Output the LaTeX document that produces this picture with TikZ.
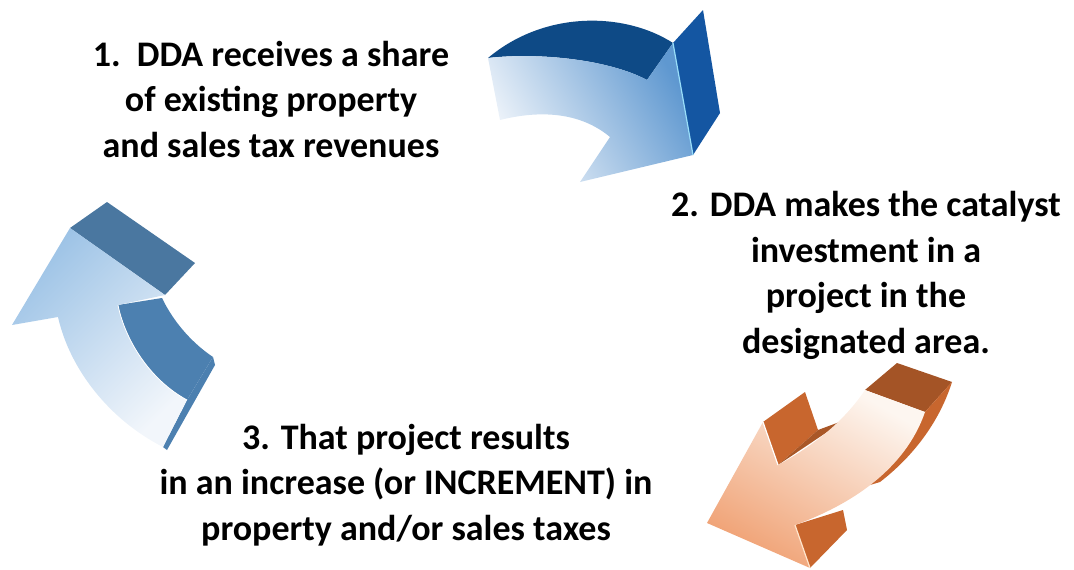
\documentclass[tikz,border=0pt]{standalone}
\usepackage{fontspec}
\setmainfont{Carlito}
\definecolor{navytop}{HTML}{0E4A86}
\definecolor{navyside}{HTML}{1456A2}
\definecolor{navydeep}{HTML}{5F98D0}
\definecolor{steeltop}{HTML}{4A77A0}
\definecolor{steelin}{HTML}{4C80B0}
\definecolor{steeldeep}{HTML}{9DC3E6}
\definecolor{rusttop}{HTML}{A45426}
\definecolor{rustside}{HTML}{C8662E}
\definecolor{rustdeep}{HTML}{F0A275}
\definecolor{paleblue}{HTML}{F2F6FB}
\definecolor{paleorange}{HTML}{FDF6F0}
\tikzset{
    stage/.style ={
        align=center,
        inner sep=0pt,
        anchor=base,
        font=\fontsize{36}{45.5}\selectfont\bfseries
    },
    face/.style ={
        fill=#1,
        draw=none
    },
    glint/.style ={
        draw=#1,
        line width=1.2pt
    }
}

\begin{document}
\begin{tikzpicture}[x=1pt,y=-1pt]
    \useasboundingbox (0,0) rectangle (1074,570);
    % arrow from 1 to 2
    \fill[face=navytop] (488,58) .. controls (545,10) and (625,12) .. (673,43)
        -- (647,80) .. controls (610,60) and (540,52) .. (488,58) -- cycle;
    \fill[face=navyside] (673,43) -- (703,10) -- (720,113) -- (693,155) -- cycle;
    \shade[top color=navydeep,bottom color=paleblue,shading angle=-60]
        (488,58) .. controls (540,52) and (610,60) .. (647,80) -- (673,43)
        -- (693,155) -- (580,182) -- (610,137)
        .. controls (580,112) and (540,110) .. (500,120) -- cycle;
    \draw[glint=cyan!40] (673,43) -- (693,155);
    % arrow from 2 to 3
    \fill[face=rusttop] (865,390) -- (897,363) -- (952,382) -- (925,412) -- cycle;
    \fill[face=rustside] (925,412) -- (952,382) .. controls (940,420) and (915,455) .. (880,482)
        -- (870,485) -- cycle;
    \fill[face=rustside] (763,422) -- (805,392) -- (818,430) -- (778,465) -- cycle;
    \fill[face=rusttop!85!rustside] (778,465) -- (818,430) -- (845,420) -- cycle;
    \fill[face=rustside] (795,525) -- (843,510) -- (847,530) -- (810,568) -- cycle;
    \shade[top color=paleorange,bottom color=rustdeep,shading angle=-30]
        (865,390) .. controls (845,420) and (815,445) .. (778,465) -- (763,422)
        -- (707,523) -- (810,568) -- (795,525)
        .. controls (850,505) and (905,470) .. (925,412) -- cycle;
    \draw[glint=orange!20] (795,525) -- (810,568);
    \draw[glint=white] (763,422) -- (778,465);
    % arrow from 3 to 1
    \fill[face=steeltop] (70,228) -- (107,202) -- (195,263) -- (165,295) -- cycle;
    \fill[face=steelin] (118,305) -- (162,298) .. controls (175,325) and (195,345) .. (213,357)
        -- (187,400) .. controls (150,380) and (125,340) .. (118,305) -- cycle;
    \fill[face=steelin] (187,400) -- (213,357) -- (215,365) -- (167,450) -- (163,447) -- cycle;
    \shade[top color=steeldeep,bottom color=paleblue,shading angle=45]
        (12,325) -- (70,228) -- (165,295) -- (118,305)
        .. controls (125,340) and (150,380) .. (187,400) -- (163,447)
        .. controls (110,420) and (70,370) .. (58,317) -- cycle;
    \draw[glint=white,line width=0.8pt] (118,305) .. controls (125,340) and (150,380) .. (187,400);
    % the three steps
    \node[stage] (share) at (271,157) {1.\ \ DDA receives a share\\of existing property\\and sales tax revenues};
    \node[stage] (invest) at (866,353) {2. DDA makes the catalyst\\investment in a\\project in the\\designated area.};
    \node[stage] (increment) at (406,540) {3. That project results\\in an increase (or INCREMENT) in\\property and/or sales taxes};
\end{tikzpicture}
\end{document}
